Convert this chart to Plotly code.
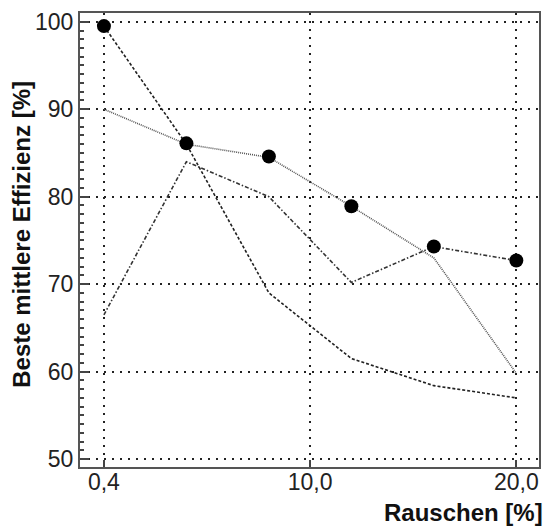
import plotly.graph_objects as go

# x positions of the six noise levels (equally spaced in the chart)
noise_pos = [0, 4, 8, 12, 16, 20]
x_tick_vals = [0, 10, 20]
x_tick_text = ["0,4", "10,0", "20,0"]
y_tick_vals = [50, 60, 70, 80, 90, 100]

series_dash = [99.5, 86.0, 69.0, 61.5, 58.4, 57.0]
series_dot = [90.0, 86.0, 84.5, 78.9, 73.0, 59.8]
series_dashdot = [66.5, 84.0, 80.0, 70.2, 74.3, 72.7]
best = [99.5, 86.1, 84.6, 78.9, 74.3, 72.7]

fig = go.Figure()
fig.add_trace(go.Scatter(x=noise_pos, y=series_dash, mode="lines",
                         line=dict(color="#222222", width=1.6, dash="3px,2px")))
fig.add_trace(go.Scatter(x=noise_pos, y=series_dot, mode="lines",
                         line=dict(color="#555555", width=1.6, dash="1px,1px")))
fig.add_trace(go.Scatter(x=noise_pos, y=series_dashdot, mode="lines",
                         line=dict(color="#333333", width=1.6, dash="4px,2px,1.5px,2px")))
fig.add_trace(go.Scatter(x=noise_pos, y=best, mode="markers",
                         marker=dict(color="black", size=14)))

axis_common = dict(
    showline=True, linecolor="#555555", linewidth=2, mirror=True,
    showgrid=True, gridcolor="#222222", gridwidth=1.5, griddash="2px,6px",
    zeroline=False, ticks="inside", tickcolor="#444444", tickwidth=2,
    tickfont=dict(family="Liberation Sans, Arial", size=23, color="#222222"),
)

fig.update_xaxes(range=[-1.16, 21.1], tickvals=x_tick_vals, ticktext=x_tick_text,
                 ticklen=7, ticklabelstandoff=-7, **axis_common)
fig.update_yaxes(range=[49.1, 101.0], tickvals=y_tick_vals, ticklen=9,
                 minor=dict(ticks="inside", ticklen=4, dtick=1, tickcolor="#444444",
                            tickwidth=1.5, showgrid=False),
                 **axis_common)

fig.update_layout(
    width=549, height=527,
    margin=dict(l=80, r=8, t=13, b=60),
    plot_bgcolor="white", paper_bgcolor="white",
    showlegend=False,
    annotations=[
        dict(text="<b>Rauschen [%]</b>", xref="paper", yref="paper",
             x=1.0 + 6 / 461, y=-(512 - 467) / 454, xanchor="right", yanchor="middle",
             showarrow=False,
             font=dict(family="Liberation Sans, Arial", size=24, color="#111111")),
        dict(text="<b>Beste mittlere Effizienz [%]</b>", xref="paper", yref="paper",
             x=(21 - 80) / 461, y=(467 - 234.5) / 454, xanchor="center", yanchor="middle",
             textangle=-90, showarrow=False,
             font=dict(family="Liberation Sans, Arial", size=24, color="#111111")),
    ],
)

fig.write_html("out.html", config={"displayModeBar": False},
               post_script="document.body.style.margin='0';document.body.style.overflow='hidden';")
